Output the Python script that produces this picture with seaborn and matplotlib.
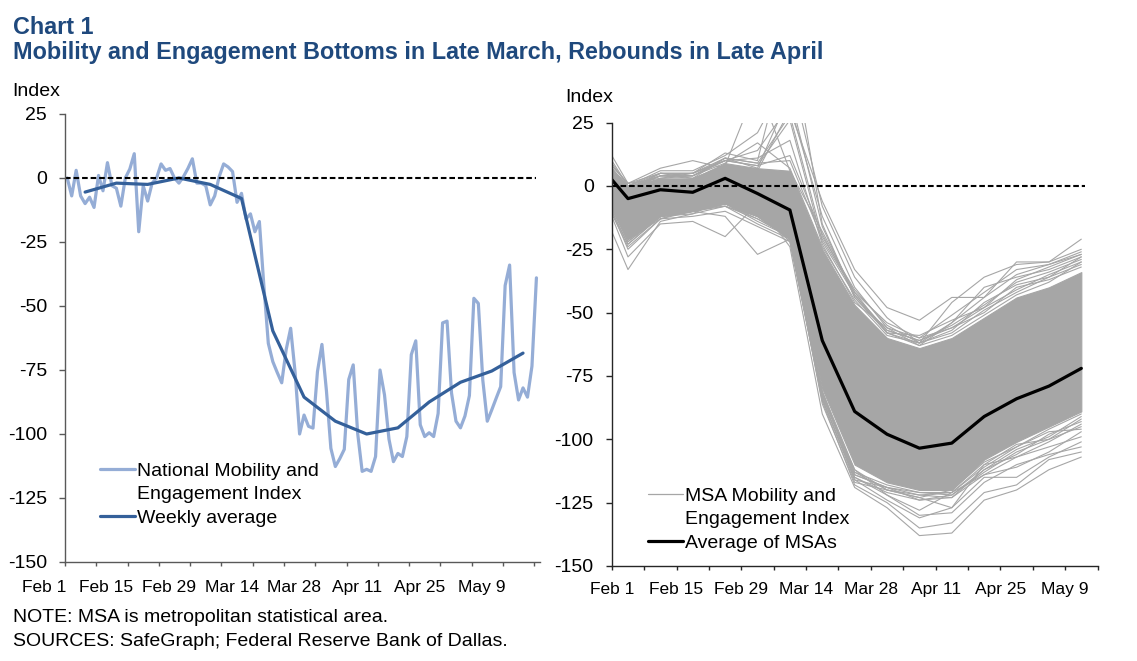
import numpy as np
import pandas as pd
import matplotlib
matplotlib.use("Agg")
import matplotlib.pyplot as plt
import matplotlib.transforms as mtrans
from matplotlib.lines import Line2D
import seaborn as sns

# ==============================
# DATA
# ==============================
national_daily = [
    0, -7, 3, -7, -10, -7.5, -11.5, 1, -5, 6, -3, -4, -11, 0, 3.5, 9.5, -21, -3, -9, -2,
    0, 5.5, 3, 3.7, 0, -2, 0.5, 3.7, 7.5, -2, -2, -3, -10.5, -7, 0.5, 5.5, 4.3, 2.5, -9.5, -6,
    -16, -14, -21, -17, -42, -64.6, -71.7, -76, -80, -67, -58.7, -76, -100, -92.6, -97, -97.7,
    -75.6, -65, -83, -105.6, -112.7, -109.6, -106, -78.7, -73, -99.8, -114.6, -113.8, -114.6,
    -108.8, -75, -84.7, -102, -110.8, -107.6, -108.8, -101, -69, -63.6, -96.4, -101, -99.5,
    -101, -92, -56.6, -55.9, -84, -95, -97.6, -93, -85, -47, -49, -79, -95, -90.6, -86, -81.5,
    -42, -34, -76, -86.7, -82, -85.6, -73.5, -39,
]
national_weekly = [-5.5, -2, -2.5, 0, -2.5, -8, -59.7, -85.6, -95, -100, -97.6, -87.5, -79.8, -75.4, -68.4]

msa_average = [2.5, -5, -1.5, -2.5, 3, -3, -9.5, -61, -89, -98, -103.5, -101.5, -91, -84, -79, -72]

# dense middle of the MSA lines, too many to read one at a time
msa_core_top = [7, 0, 3, 3, 9, 7, 6, -25, -47, -60, -64, -60, -52, -44, -40, -34]
msa_core_bottom = [-9, -21, -12, -10, -7, -12, -21, -80, -110, -117, -120, -120, -108, -101, -95, -89]

# lines at the edge of the band, one row per MSA
msa_fringe = [
    [12, 1, 7, 10, 7, 6, 30, -6, -33, -48, -53, -44, -44, -30, -30, -21],
    [9, 0, 6, 6, 12, 21, 45, -8, -36, -52, -62, -46, -36, -31, -30, -25],
    [7, -1, 5, 4, 10, 14, 32, -12, -40, -56, -60, -51, -42, -33, -31, -27],
    [6, -2, 4, 3, 8, 40, 6, -18, -42, -58, -63, -54, -40, -36, -33, -28],
    [8, 1, 5, 5, 13, 10, 60, -15, -44, -57, -61, -55, -47, -38, -34, -29],
    [10, 0, 4, 5, 11, 9, 28, -20, -41, -55, -62, -57, -46, -39, -36, -31],
    [5, -3, 3, 4, 11, 7, 36, -16, -44, -58, -59, -53, -48, -41, -35, -30],
    [7, -2, 5, 5, 10, 8, 26, -22, -43, -57, -61, -56, -50, -40, -37, -32],
    [4, -1, 4, 4, 9, 17, 7, -24, -45, -59, -62, -58, -49, -42, -36, -28],
    [8, 1, 3, 5, 10, 11, 18, -23, -46, -56, -63, -59, -51, -43, -38, -30],
    [6, 0, 5, 3, 11, 9, 10, -21, -42, -54, -60, -56, -48, -37, -32, -27],
    [-18, -33, -14, -11, -5, -10, -22, -82, -115, -122, -130, -129, -117, -110, -106, -103],
    [-12, -28, -15, -14, -20, -7, -24, -90, -119, -127, -138, -137, -124, -120, -112, -107],
    [-10, -25, -13, -10, -12, -27, -21, -85, -118, -125, -135, -133, -121, -118, -108, -105],
    [-11, -24, -13, -12, -10, -16, -22, -84, -116, -124, -131, -127, -115, -115, -107, -101],
    [-9, -22, -12, -10, -8, -15, -21, -83, -112, -122, -128, -121, -114, -111, -105, -97],
    [-10, -23, -12, -11, -8, -13, -20, -82, -113, -120, -123, -127, -110, -107, -101, -94],
    [-8, -21, -11, -10, -7, -12, -20, -81, -114, -119, -122, -123, -112, -104, -99, -91],
    [-9, -20, -12, -9, -7, -12, -20, -84, -115, -121, -124, -122, -112, -106, -98, -93],
    [-8, -20, -11, -9, -6, -12, -19, -86, -117, -120, -122, -121, -111, -103, -97, -96],
    [-7, -19, -11, -8, -6, -11, -19, -83, -113, -118, -121, -122, -113, -105, -100, -92],
    [-8, -22, -12, -10, -7, -13, -20, -82, -114, -119, -121, -121, -110, -102, -100, -95],
    [-9, -21, -13, -9, -8, -12, -21, -81, -112, -120, -123, -120, -109, -103, -96, -90],
    [-10, -23, -12, -10, -7, -14, -20, -84, -116, -119, -124, -123, -114, -107, -103, -99],
    [5, -1, 4, 4, 10, 8, 12, -19, -43, -58, -62, -54, -44, -35, -31, -26],
]

day_labels = ["Feb 1", "Feb 15", "Feb 29", "Mar 14", "Mar 28", "Apr 11", "Apr 25", "May 9"]
y_ticks = [25, 0, -25, -50, -75, -100, -125, -150]

TITLE_BLUE = "#1F497D"
DAILY_BLUE = "#95ADD6"
WEEKLY_BLUE = "#34609A"
MSA_GRAY = "#A6A6A6"

sns.set_style("white")
plt.rcParams["font.family"] = ["Liberation Sans", "DejaVu Sans"]
plt.rcParams["axes.unicode_minus"] = False
plt.rcParams["text.color"] = "black"

W, H = 1137, 661
fig = plt.figure(figsize=(W / 100, H / 100), dpi=100)


def axes_px(left, top, right, bottom):
    return fig.add_axes([left / W, 1 - bottom / H, (right - left) / W, (bottom - top) / H])


def style_axis(ax, spine_color, x_pad):
    sns.despine(ax=ax)
    for side in ["left", "bottom"]:
        ax.spines[side].set_color(spine_color)
        ax.spines[side].set_linewidth(1.0)
    ax.set_ylim(-150, 25)
    ax.set_yticks(y_ticks)
    ax.tick_params(axis="y", length=4, width=1, color=spine_color, labelsize=14, pad=9, left=True,
                   labelcolor="black")
    ax.tick_params(axis="x", length=3, width=1, color=spine_color, labelsize=12.5, pad=x_pad, bottom=True,
                   labelcolor="black")
    ax.set_xlabel("")
    ax.set_ylabel("")
    ax.grid(False)


# ==============================
# LEFT PANEL
# ==============================
ax1 = axes_px(65, 114, 540, 562)
daily_x = np.arange(len(national_daily))
weekly_x = 4 + 7 * np.arange(len(national_weekly))

sns.lineplot(x=daily_x, y=national_daily, ax=ax1, color=DAILY_BLUE, linewidth=2.3, errorbar=None)
sns.lineplot(x=weekly_x, y=national_weekly, ax=ax1, color=WEEKLY_BLUE, linewidth=2.3, errorbar=None)
ax1.plot([-0.5, 105], [0, 0], color="black", linewidth=1.5, dashes=(2.7, 1.4))

ax1.set_xlim(-0.5, 105.8)
style_axis(ax1, "#595959", 10)
ax1.set_xticks(-0.5 + 7 * np.arange(16))
ax1.set_xticklabels([day_labels[i // 2] if i % 2 == 0 else "" for i in range(16)])
# labels sit left of their ticks in the original
shift = mtrans.ScaledTranslation(-21 / 100, 0, fig.dpi_scale_trans)
for lab in ax1.get_xticklabels():
    lab.set_transform(lab.get_transform() + shift)

ax1.legend(
    handles=[
        Line2D([], [], color=DAILY_BLUE, linewidth=2.3),
        Line2D([], [], color="none"),
        Line2D([], [], color=WEEKLY_BLUE, linewidth=2.3),
    ],
    labels=["National Mobility and", "Engagement Index", "Weekly average"],
    loc="upper left", bbox_to_anchor=(35 / 475, (562 - 462) / 448),
    frameon=False, fontsize=14, handlelength=1.8, handletextpad=0.1,
    labelspacing=0.32, borderpad=0, borderaxespad=0, labelcolor="black",
)

# ==============================
# RIGHT PANEL
# ==============================
ax2 = axes_px(611.8, 122.6, 1097.5, 566)
# first point is where the lines enter at the axis, the rest are mid-week
week_x = np.concatenate([[0], np.arange(15) + 0.5])

msa_long = pd.DataFrame(msa_fringe, columns=week_x)
msa_long["msa"] = range(len(msa_long))
msa_long = msa_long.melt(id_vars="msa", var_name="week", value_name="index_value")
msa_long["week"] = msa_long["week"].astype(float)

ax2.fill_between(week_x, msa_core_bottom, msa_core_top, color=MSA_GRAY, linewidth=0.8)
sns.lineplot(data=msa_long, x="week", y="index_value", units="msa", estimator=None,
             ax=ax2, color=MSA_GRAY, linewidth=0.8)
sns.lineplot(x=week_x, y=msa_average, ax=ax2, color="black", linewidth=2.3, errorbar=None)
ax2.plot([0, 14.6], [0, 0], color="black", linewidth=1.5, dashes=(2.7, 1.4))

ax2.set_xlim(0, 15)
style_axis(ax2, "#262626", 8.5)
ax2.set_xticks(np.arange(16))
ax2.set_xticklabels([day_labels[i // 2] if i % 2 == 0 else "" for i in range(16)])

ax2.legend(
    handles=[
        Line2D([], [], color=MSA_GRAY, linewidth=0.9),
        Line2D([], [], color="none"),
        Line2D([], [], color="black", linewidth=2.3),
    ],
    labels=["MSA Mobility and", "Engagement Index", "Average of MSAs"],
    loc="upper left", bbox_to_anchor=(36 / 485.7, (566 - 487) / 443.4),
    frameon=False, fontsize=14, handlelength=1.8, handletextpad=0.1,
    labelspacing=0.32, borderpad=0, borderaxespad=0, labelcolor="black",
)

# ==============================
# TEXT
# ==============================
def text_px(x, y, s, **kw):
    fig.text(x / W, 1 - y / H, s, va="center", ha="left", **kw)


text_px(13, 28, "Chart 1", color=TITLE_BLUE, fontweight="bold", fontsize=16.8)
text_px(13, 53, "Mobility and Engagement Bottoms in Late March, Rebounds in Late April",
        color=TITLE_BLUE, fontweight="bold", fontsize=16.8)
text_px(12, 91, "Index", color="black", fontsize=14)
text_px(565, 98, "Index", color="black", fontsize=14)
text_px(13, 617, "NOTE: MSA is metropolitan statistical area.", color="black", fontsize=14)
text_px(13, 642, "SOURCES: SafeGraph; Federal Reserve Bank of Dallas.", color="black", fontsize=14)

fig.savefig("out.png", dpi=100)
